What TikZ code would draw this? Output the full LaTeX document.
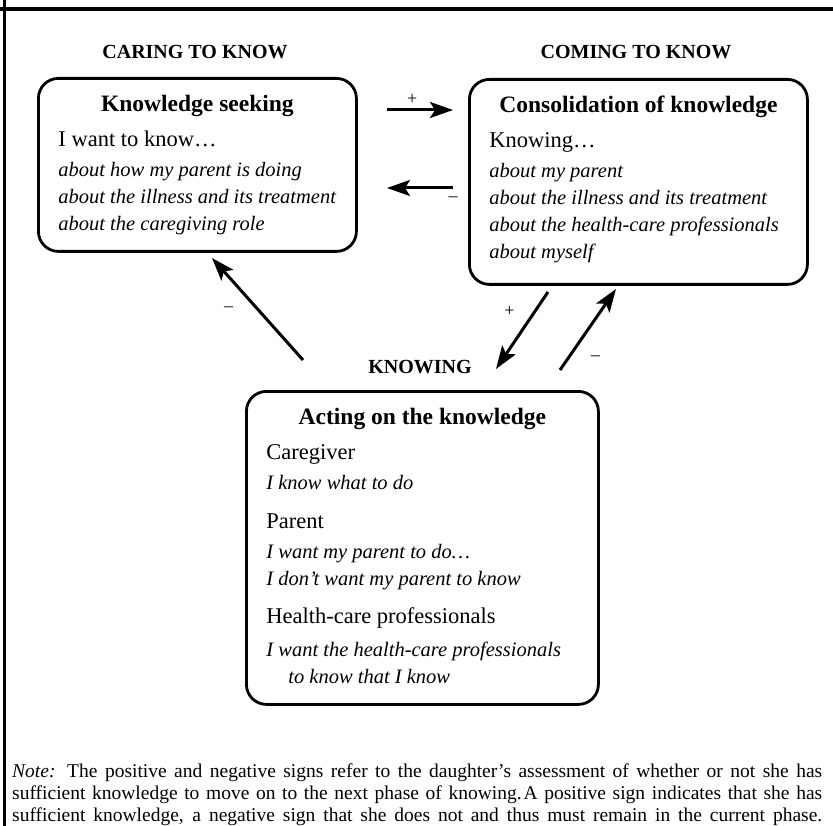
\documentclass[tikz,border=0pt]{standalone}
\usepackage{fontspec}
\setmainfont{Liberation Serif}
\usetikzlibrary{arrows.meta,positioning,calc}

% phase box title, centred on its own line
\newcommand{\phasetitle}[1]{\makebox[\linewidth]{\fontsize{23.5}{27}\selectfont\bfseries #1}}
\newcommand{\phaseline}[1]{{\fontsize{22.5}{27}\selectfont #1}}

\begin{document}
\begin{tikzpicture}[x=1pt,y=-1pt]
  \tikzset{
    phase/.style={draw=black, line width=2.8pt, rounded corners=20pt, anchor=north west, inner xsep=20pt, inner ysep=17pt},
    head/.style={font=\fontsize{20}{24}\selectfont\bfseries},
    flow/.style={-{Stealth[length=23pt,width=16pt,inset=5pt]}, line width=3pt},
    sign/.style={font=\fontsize{18}{20}\selectfont, inner sep=1pt}
  }
  \useasboundingbox (0,0) rectangle (833,826);

  % frame
  \draw[line width=4pt] (0,9) -- (833,9);
  \draw[line width=3pt] (4,0) -- (4,826);

  % phase headings
  \node[head] (hcaring) at (195,52) {CARING TO KNOW};
  \node[head] (hcoming) at (636,52) {COMING TO KNOW};
  \node[head] (hknowing) at (420,367) {KNOWING};

  % phase boxes
  \node[phase] (seek) at (37,77) {\parbox[t][139pt][t]{278pt}{\fontsize{20.5}{27}\selectfont
    \phasetitle{Knowledge seeking}\\[8pt]
    \phaseline{I want to know…}\\[3pt]
    \textit{about how my parent is doing}\\
    \textit{about the illness and its treatment}\\
    \textit{about the caregiving role}}};

  \node[phase] (consol) at (468,78) {\parbox[t][171pt][t]{298pt}{\fontsize{20.5}{27}\selectfont
    \phasetitle{Consolidation of knowledge}\\[8pt]
    \phaseline{Knowing…}\\[3pt]
    \textit{about my parent}\\
    \textit{about the illness and its treatment}\\
    \textit{about the health-care professionals}\\
    \textit{about myself}}};

  \node[phase] (act) at (245,390) {\parbox[t][279pt][t]{312pt}{\fontsize{20.5}{27}\selectfont
    \phasetitle{Acting on the knowledge}\\[8pt]
    \phaseline{Caregiver}\\[3pt]
    \textit{I know what to do}\\[12pt]
    \phaseline{Parent}\\[3pt]
    \textit{I want my parent to do…}\\
    \textit{I don’t want my parent to know}\\[11pt]
    \phaseline{Health-care professionals}\\[6pt]
    \textit{I want the health-care professionals}\\
    \hspace*{22pt}\textit{to know that I know}}};

  % arrow end points
  \coordinate (r1) at (387,110); \coordinate (r2) at (453,110);
  \coordinate (l1) at (453,188); \coordinate (l2) at (387,188);
  \coordinate (u1) at (303,360); \coordinate (u2) at (212,258);
  \coordinate (d1) at (548,292); \coordinate (d2) at (496,369);
  \coordinate (e1) at (560,370); \coordinate (e2) at (616,289);

  % connectors
  \draw[flow] (r1) -- node[sign, above=3pt, pos=0.38] {+} (r2);
  \draw[flow] (l1) -- node[sign, below=6pt, pos=0] {–} (l2);
  \draw[flow] (u1) -- node[sign, left=22pt, pos=0.5] {–} (u2);
  \draw[flow] (d1) -- node[sign, left=18pt, pos=0.25] {+} (d2);
  \draw[flow] (e1) -- node[sign, right=20pt, pos=0.15] {–} (e2);

  % note
  \node[anchor=north west, inner sep=0pt, text width=810pt, align=justify] (note) at (12,764)
    {\fontsize{19.5}{22}\selectfont
    \textit{Note:} The positive and negative signs refer to the daughter’s assessment of whether or not she has\linebreak
    sufficient knowledge to move on to the next phase of knowing.\kern2pt A positive sign indicates that she has\linebreak
    sufficient knowledge, a negative sign that she does not and thus must remain in the current phase.\parfillskip=0pt\par};
\end{tikzpicture}
\end{document}
